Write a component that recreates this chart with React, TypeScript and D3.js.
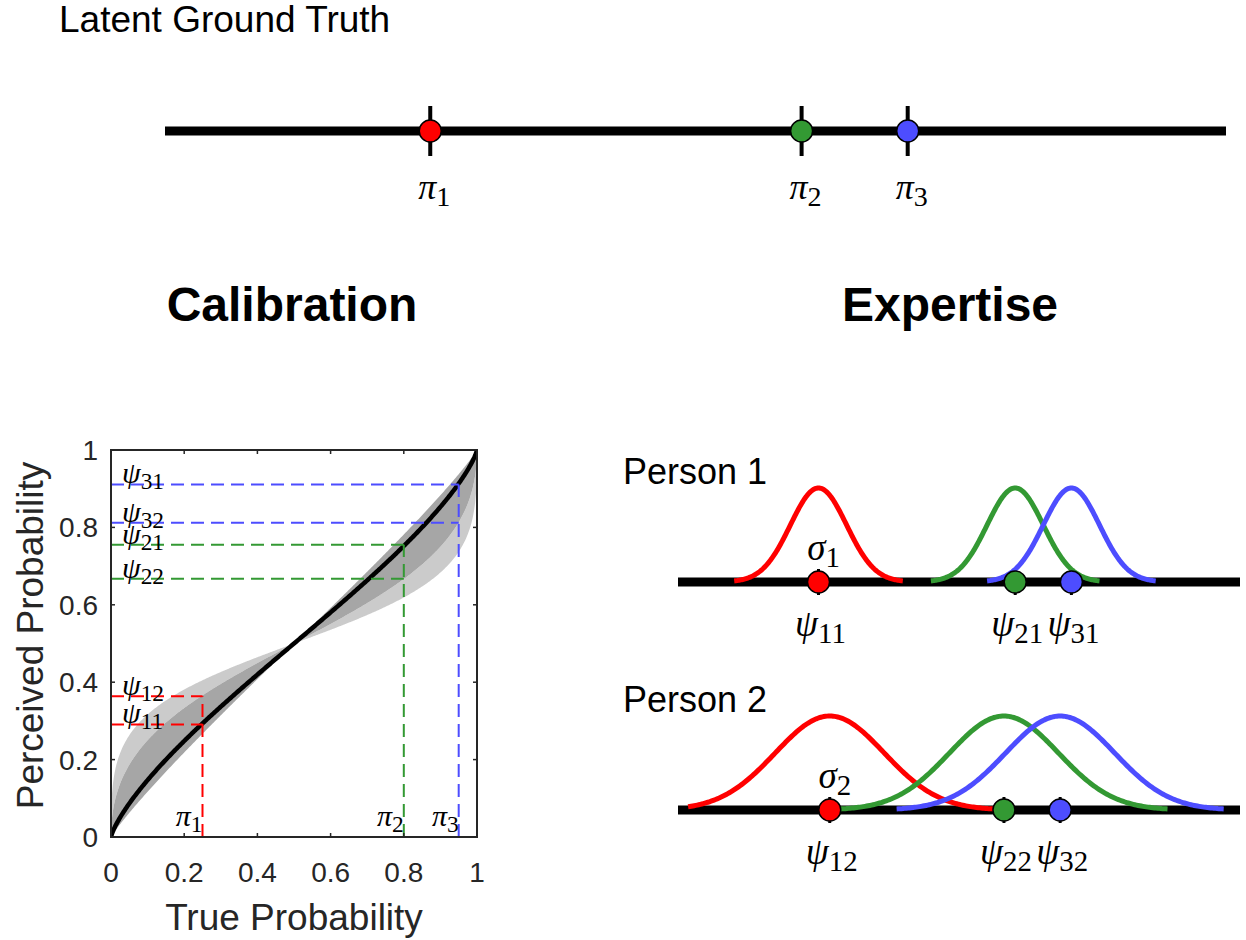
import React from "react";
import * as d3 from "d3";

const W = 1246;
const H = 940;

// Three events, their colours and latent ground-truth positions
const eventIds = ["1", "2", "3"];
const eventColors = ["#ff0000", "#339933", "#4d4dff"];
const latentPos = [0.25, 0.6, 0.7];

// Calibration panel: true probabilities and each person's perceived values
const truthProb = [0.25, 0.8, 0.95];
const perceivedPerson1 = [0.291, 0.755, 0.911];
const perceivedPerson2 = [0.364, 0.667, 0.812];
const deltaMain = 0.8; // slope of the linear-in-log-odds curve drawn in black
const deltaDarkBand = [0.5, 0.92];
const deltaLightBand = [0.35, 0.5];
const axisTicks = [0, 0.2, 0.4, 0.6, 0.8, 1];
const axisTickLabels = ["0", "0.2", "0.4", "0.6", "0.8", "1"];

// Expertise panel: perceived positions and spread for each person
const personNames = ["Person 1", "Person 2"];
const personPos = [
  [0.25, 0.6, 0.7],
  [0.27, 0.58, 0.68],
];
const personSigma = [0.05, 0.097];
const curveMin = 0.018;

const SANS = "'Liberation Sans', Arial, Helvetica, sans-serif";
const SERIF = "'Liberation Serif', 'Times New Roman', serif";
const AXIS_COLOR = "#262626";

// linear-in-log-odds calibration
const llo = (p: number, d: number) => {
  const a = Math.pow(p, d);
  const b = Math.pow(1 - p, d);
  return a / (a + b);
};

function Sym({ x, y, base, sub, size, anchor = "middle" }: any) {
  return (
    <text x={x} y={y} textAnchor={anchor} fontFamily={SERIF} fontSize={size} fill="#000">
      <tspan fontStyle="italic">{base}</tspan>
      <tspan fontSize={size * 0.78} dy={size * 0.2}>
        {sub}
      </tspan>
    </text>
  );
}

export default function App() {
  // ---------- top latent line ----------
  const xTop = d3.scaleLinear().domain([0, 1]).range([165, 1226]);
  const yTop = 131;

  // ---------- calibration axes ----------
  const xs = d3.scaleLinear().domain([0, 1]).range([111, 477]);
  const ys = d3.scaleLinear().domain([0, 1]).range([837, 450]);
  const grid = d3.range(0, 1.00001, 0.0025).map((v) => Math.min(1, v));

  const bandArea = (d0: number, d1: number) =>
    d3
      .area<number>()
      .x((p) => xs(p))
      .y0((p) => ys(llo(p, d0)))
      .y1((p) => ys(llo(p, d1)))(grid) || "";
  const mainLine =
    d3
      .line<number>()
      .x((p) => xs(p))
      .y((p) => ys(llo(p, deltaMain)))(grid) || "";

  // ---------- expertise rows ----------
  const xe = d3.scaleLinear().domain([0, 1]).range([678, 1240]);
  const rowY = [582, 810];
  const peak = 94;

  const gaussPath = (mu: number, s: number, y0: number) => {
    const yg = d3.scaleLinear().domain([0, 1]).range([y0, y0 - peak]);
    const lo = Math.max(curveMin, mu - 3 * s);
    const hi = mu + 3 * s;
    const pts = d3.range(lo, hi + 1e-9, (hi - lo) / 200);
    return (
      d3
        .line<number>()
        .x((v) => xe(v))
        .y((v) => yg(Math.exp(-0.5 * ((v - mu) / s) ** 2)))(pts) || ""
    );
  };

  const psiLabelsLeft = [
    { v: perceivedPerson1[2], sub: "31" },
    { v: perceivedPerson2[2], sub: "32" },
    { v: perceivedPerson1[1], sub: "21" },
    { v: perceivedPerson2[1], sub: "22" },
    { v: perceivedPerson2[0], sub: "12" },
    { v: perceivedPerson1[0], sub: "11" },
  ];

  return (
    <svg width={W} height={H} viewBox={`0 0 ${W} ${H}`} style={{ display: "block", position: "absolute", left: 0, top: 0, background: "#fff" }}>
      <rect x={0} y={0} width={W} height={H} fill="#fff" />

      {/* ---------- Latent ground truth ---------- */}
      <text x={59} y={32} fontFamily={SANS} fontSize={37} fill="#000">
        Latent Ground Truth
      </text>
      <line x1={xTop(0)} x2={xTop(1)} y1={yTop} y2={yTop} stroke="#000" strokeWidth={9} />
      {latentPos.map((v, i) => (
        <g key={"t" + i}>
          <line x1={xTop(v)} x2={xTop(v)} y1={yTop - 25} y2={yTop + 25} stroke="#000" strokeWidth={4} />
          <circle cx={xTop(v)} cy={yTop} r={11} fill={eventColors[i]} stroke="#000" strokeWidth={1.5} />
          <Sym x={xTop(v) + 4} y={yTop + 68} base="π" sub={eventIds[i]} size={36} />
        </g>
      ))}

      {/* ---------- Section titles ---------- */}
      <text x={292} y={321} textAnchor="middle" fontFamily={SANS} fontWeight="bold" fontSize={48} fill="#000">
        Calibration
      </text>
      <text x={950} y={321} textAnchor="middle" fontFamily={SANS} fontWeight="bold" fontSize={48} fill="#000">
        Expertise
      </text>

      {/* ---------- Calibration plot ---------- */}
      <defs>
        <clipPath id="calib-clip">
          <rect x={xs(0)} y={ys(1)} width={xs(1) - xs(0)} height={ys(0) - ys(1)} />
        </clipPath>
      </defs>
      <g clipPath="url(#calib-clip)">
        <path d={bandArea(deltaLightBand[0], deltaLightBand[1])} fill="#cbcbcb" />
        <path d={bandArea(deltaDarkBand[0], deltaDarkBand[1])} fill="#a6a6a6" />
        <path d={mainLine} fill="none" stroke="#000" strokeWidth={4.5} />
      </g>

      {/* dashed guides from true to perceived probability */}
      {truthProb.map((p, i) => {
        const top = Math.max(perceivedPerson1[i], perceivedPerson2[i]);
        return (
          <g key={"g" + i} stroke={eventColors[i]} strokeWidth={2} strokeDasharray="13,7" fill="none">
            <line x1={xs(p)} x2={xs(p)} y1={ys(0)} y2={ys(top)} />
            <line x1={xs(0)} x2={xs(p)} y1={ys(perceivedPerson1[i])} y2={ys(perceivedPerson1[i])} />
            <line x1={xs(0)} x2={xs(p)} y1={ys(perceivedPerson2[i])} y2={ys(perceivedPerson2[i])} />
          </g>
        );
      })}

      {psiLabelsLeft.map((d, i) => (
        <Sym key={"pl" + i} x={xs(0) + 11} y={ys(d.v) - 1} base="ψ" sub={d.sub} size={30} anchor="start" />
      ))}
      {truthProb.map((p, i) => (
        <Sym key={"pi" + i} x={xs(p)} y={826} base="π" sub={eventIds[i]} size={30} anchor="end" />
      ))}

      {/* axes box and ticks */}
      <rect x={xs(0)} y={ys(1)} width={xs(1) - xs(0)} height={ys(0) - ys(1)} fill="none" stroke={AXIS_COLOR} strokeWidth={2} />
      {axisTicks.map((t, i) => (
        <g key={"ax" + i} stroke={AXIS_COLOR} strokeWidth={1.5}>
          <line x1={xs(t)} x2={xs(t)} y1={ys(0)} y2={ys(0) - 4} />
          <line x1={xs(t)} x2={xs(t)} y1={ys(1)} y2={ys(1) + 4} />
          <line x1={xs(0)} x2={xs(0) + 4} y1={ys(t)} y2={ys(t)} />
          <line x1={xs(1)} x2={xs(1) - 4} y1={ys(t)} y2={ys(t)} />
        </g>
      ))}
      {axisTicks.map((t, i) => (
        <text key={"xl" + i} x={xs(t)} y={882} textAnchor="middle" fontFamily={SANS} fontSize={28} fill={AXIS_COLOR}>
          {axisTickLabels[i]}
        </text>
      ))}
      {axisTicks.map((t, i) => (
        <text key={"yl" + i} x={98} y={ys(t) + 10} textAnchor="end" fontFamily={SANS} fontSize={28} fill={AXIS_COLOR}>
          {axisTickLabels[i]}
        </text>
      ))}
      <text x={294} y={930} textAnchor="middle" fontFamily={SANS} fontSize={37} fill={AXIS_COLOR}>
        True Probability
      </text>
      <text
        transform={`translate(43, ${(ys(0) + ys(1)) / 2 - 8}) rotate(-90)`}
        textAnchor="middle"
        fontFamily={SANS}
        fontSize={37}
        fill={AXIS_COLOR}
      >
        Perceived Probability
      </text>

      {/* ---------- Expertise rows ---------- */}
      {personNames.map((name, r) => {
        const y0 = rowY[r];
        const pos = personPos[r];
        return (
          <g key={"row" + r}>
            <text x={623} y={y0 - 98} fontFamily={SANS} fontSize={36} fill="#000">
              {name}
            </text>
            <line x1={xe(0)} x2={xe(1)} y1={y0} y2={y0} stroke="#000" strokeWidth={9} />
            {pos.map((v, i) => (
              <line key={"tk" + i} x1={xe(v)} x2={xe(v)} y1={y0 - 13} y2={y0 + 13} stroke="#000" strokeWidth={3} />
            ))}
            {pos.map((v, i) => (
              <path key={"c" + i} d={gaussPath(v, personSigma[r], y0)} fill="none" stroke={eventColors[i]} strokeWidth={5} />
            ))}
            {pos.map((v, i) => (
              <circle key={"d" + i} cx={xe(v)} cy={y0} r={11} fill={eventColors[i]} stroke="#000" strokeWidth={1.5} />
            ))}
            <Sym x={xe(pos[0]) + 5} y={y0 - 22} base="σ" sub={String(r + 1)} size={37} />
            {pos.map((v, i) => (
              <Sym key={"ps" + i} x={xe(v) + 2} y={y0 + 54} base="ψ" sub={eventIds[i] + String(r + 1)} size={37} />
            ))}
          </g>
        );
      })}
    </svg>
  );
}
